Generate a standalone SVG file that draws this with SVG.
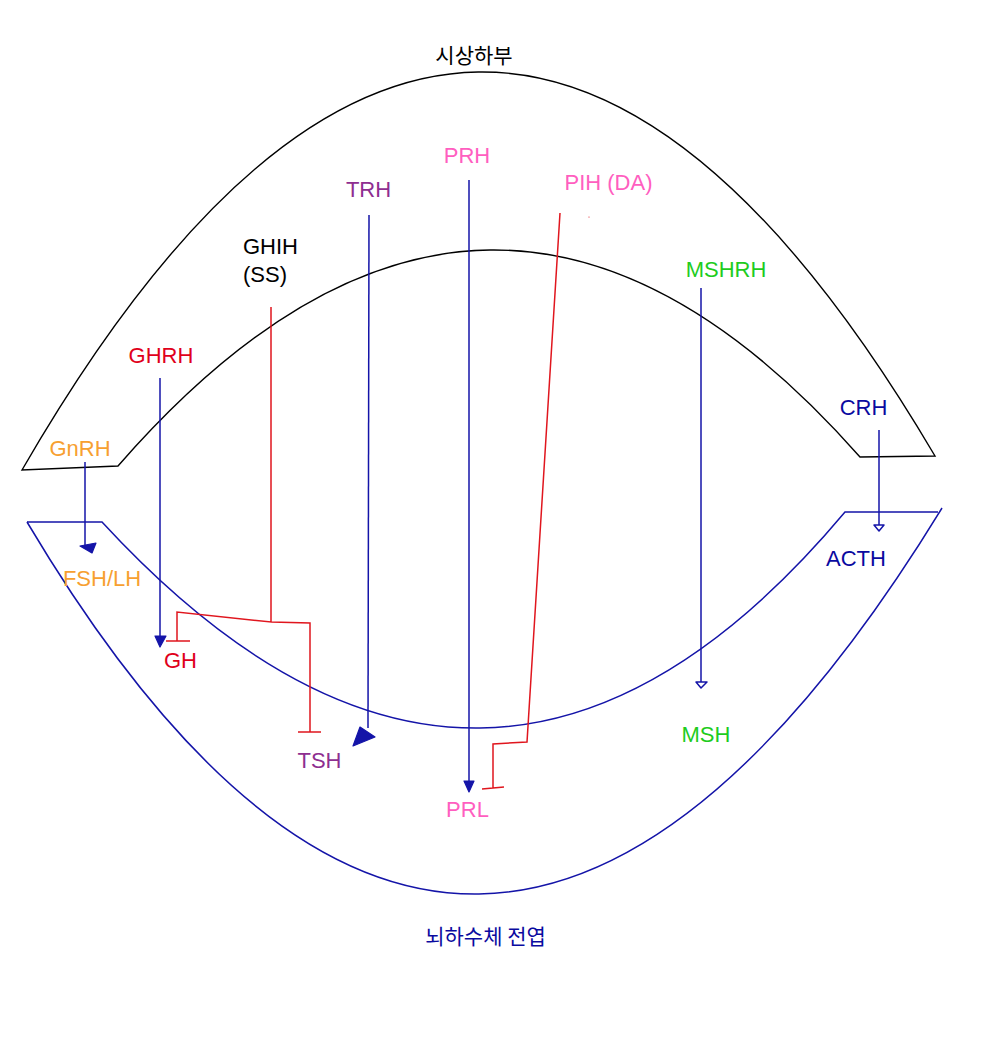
<svg xmlns="http://www.w3.org/2000/svg" width="1000" height="1052" viewBox="0 0 1000 1052">
<style>
text{font-family:"Liberation Sans","Noto Sans CJK KR",sans-serif;font-size:22px;text-anchor:middle}
.ko{font-family:"Noto Sans CJK KR","Liberation Sans",sans-serif;font-size:21px}
.hyp{fill:none;stroke:#000;stroke-width:1.4}
.pit{fill:none;stroke:#1414a8;stroke-width:1.5}
.stim{fill:none;stroke:#1414a8;stroke-width:1.5}
.inh{fill:none;stroke:#e0161e;stroke-width:1.5}
.ah{fill:#1414a8;stroke:#1414a8;stroke-width:1.2;stroke-linejoin:round}
.aho{fill:#fff;stroke:#1414a8;stroke-width:1.5;stroke-linejoin:round}
.orange{fill:#f7a030}.red{fill:#e0001b}.purple{fill:#8e2e90}.pink{fill:#ff5ec0}.green{fill:#1ecc1e}.blue{fill:#0a0aa0}.black{fill:#000}
</style>
<rect width="1000" height="1052" fill="#fff"/>
<g id="hypothalamus">
<path class="hyp" d="M22,470 Q478,-319 935,456 L860,457 Q491,38.5 118,466 Z"/>
<text class="ko black" x="474" y="63">시상하부</text>
</g>
<g id="pituitary">
<path class="pit" d="M27,522 L102,522 Q486.5,939 845,512 L938,512"/>
<path class="pit" d="M27,522 Q473.5,1273 942,508"/>
<text class="ko blue" x="485.5" y="944">뇌하수체 전엽</text>
</g>
<g id="GnRH"><text class="orange" x="80" y="456">GnRH</text></g>
<g id="GHRH"><text class="red" x="161" y="363">GHRH</text></g>
<g id="GHIH"><text class="black" x="243" y="254" style="text-anchor:start">GHIH</text><text class="black" x="243" y="282" style="text-anchor:start">(SS)</text></g>
<g id="TRH"><text class="purple" x="368.5" y="197">TRH</text></g>
<g id="PRH"><text class="pink" x="467" y="163">PRH</text></g>
<g id="PIH"><text class="pink" x="608.5" y="190">PIH (DA)</text></g>
<g id="MSHRH"><text class="green" x="726" y="277">MSHRH</text></g>
<g id="CRH"><text class="blue" x="863.5" y="415">CRH</text></g>
<g id="FSHLH"><text class="orange" x="102" y="586">FSH/LH</text></g>
<g id="GH"><text class="red" x="180.5" y="668">GH</text></g>
<g id="TSH"><text class="purple" x="319.5" y="768">TSH</text></g>
<g id="PRL"><text class="pink" x="467.5" y="817">PRL</text></g>
<g id="MSH"><text class="green" x="706" y="742">MSH</text></g>
<g id="ACTH"><text class="blue" x="856" y="566">ACTH</text></g>
<g id="connectors">
<path class="stim" d="M85,462 L85,548"/>
<polygon class="ah" points="80,546 96,543 92,553"/>
<path class="stim" d="M160,378 L160,640"/>
<polygon class="ah" points="155,636 166,636 160,647"/>
<path class="inh" d="M271,307 L271,622 L177,612 L177,641 M166,641 L190,641 M271,622 L310,623 L310,732 M298,732 L321,732"/>
<path class="stim" d="M369,215 L368,728"/>
<polygon class="ah" points="360,727 375,737 353,746"/>
<path class="stim" d="M469,180 L469,786"/>
<polygon class="ah" points="464,781 474,781 469,792"/>
<path class="inh" d="M560,213 L527,742 L493,744 L493,788 M482,789 L504,787"/>
<circle cx="589" cy="217" r="0.6" fill="#e0161e"/>
<path class="stim" d="M701,288 L701,682"/>
<polygon class="aho" points="696,682 707,682 701,688"/>
<path class="stim" d="M879,430 L879,526"/>
<polygon class="aho" points="874,525 884,525 879,531"/>
</g>
</svg>
